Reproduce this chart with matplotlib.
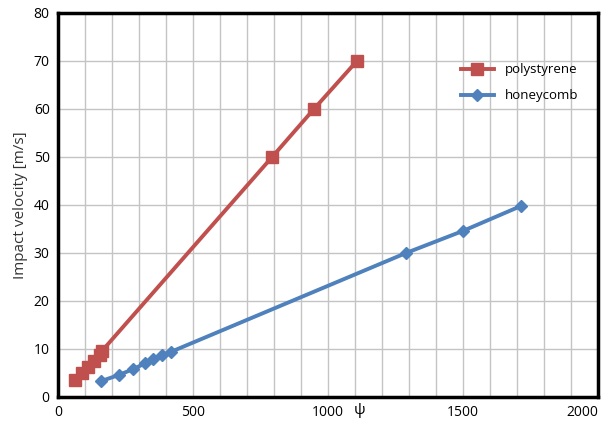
import matplotlib
matplotlib.use("Agg")
import matplotlib.pyplot as plt
from matplotlib.ticker import MultipleLocator

# dati
psi_poly = [63, 88, 110, 133, 155, 163, 793, 948, 1107]
v_poly = [3.5, 5.0, 6.2, 7.5, 8.7, 9.6, 50, 60, 70]

psi_honey = [159, 226, 278, 322, 352, 385, 418, 1289, 1500, 1715]
v_honey = [3.3, 4.6, 5.8, 7.0, 7.9, 8.75, 9.4, 30, 34.6, 39.8]

x_ticks = [0, 500, 1000, 1500, 2000]

plt.rcParams['font.family'] = ['Open Sans', 'DejaVu Sans']

fig = plt.figure(figsize=(6.08, 4.26), dpi=100)
ax = fig.add_axes([58/608, 29/426, 540/608, 384/426])

ax.plot(psi_poly, v_poly, color='#C0504D', lw=2.8, marker='s', ms=8.5, label='polystyrene')
ax.plot(psi_honey, v_honey, color='#4F81BD', lw=2.8, marker='D', ms=6, label='honeycomb')

ax.set_xticks(x_ticks)
ax.set_xticklabels([str(t) for t in x_ticks])
ax.set_xlim(0, 2000)
ax.set_ylim(0, 80)
ax.xaxis.set_minor_locator(MultipleLocator(100))
ax.yaxis.set_major_locator(MultipleLocator(10))
ax.grid(True, which='both', axis='x', color='#C4C4C4', lw=1)
ax.grid(True, which='major', axis='y', color='#C4C4C4', lw=1)
ax.set_axisbelow(True)
ax.tick_params(which='both', length=0, labelsize=10, pad=6)

for s in ax.spines.values():
    s.set_linewidth(2.5)
    s.set_color('black')

ax.set_ylabel('Impact velocity [m/s]', fontsize=11, color='#333333')
# il simbolo psi sta un po' a destra del centro
fig.text(360/608, 1 - 411/426, 'ψ', ha='center', va='center', fontsize=11)

ax.legend(loc='upper right', bbox_to_anchor=(0.985, 0.9), frameon=False,
          fontsize=9.5, handlelength=2.5, labelspacing=1.0)

# l'etichetta 2000 va allineata a destra per non uscire dal bordo
ax.get_xticklabels()[-1].set_horizontalalignment('right')

fig.savefig('out.png', dpi=100)
